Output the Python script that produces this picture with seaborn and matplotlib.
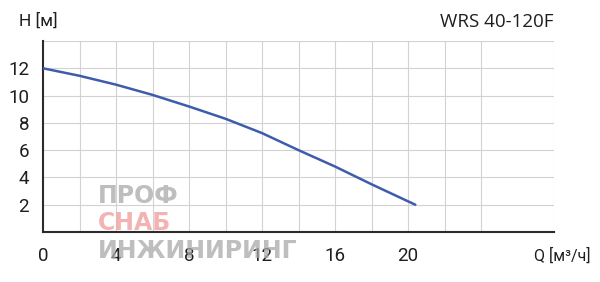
import matplotlib
matplotlib.use("Agg")
import matplotlib.pyplot as plt
import seaborn as sns
import pandas as pd

# Data
flow_q = [0, 2, 4, 6, 8, 10, 12, 14, 16, 18, 20.4]
head_h = [12.0, 11.45, 10.8, 10.05, 9.2, 8.3, 7.25, 6.0, 4.8, 3.5, 2.0]
x_ticks = [0, 4, 8, 12, 16, 20, 24, 28]
x_tick_labels = ["0", "4", "8", "12", "16", "20", "", ""]
y_ticks = [2, 4, 6, 8, 10, 12]
y_tick_labels = ["2", "4", "6", "8", "10", "12"]
x_grid = [2, 4, 6, 8, 10, 12, 14, 16, 18, 20, 22, 24, 28]
y_grid = [2, 4, 6, 8, 10, 12, 14]
title_text = "WRS 40-120F"
y_label = "H [м]"
x_label = "Q [м³/ч]"
watermark = ["ПРОФ", "СНАБ", "ИНЖИНИРИНГ"]

sns.set_style("white")
plt.rcParams["font.family"] = ["Roboto", "DejaVu Sans"]

fig = plt.figure(figsize=(6.0, 2.82), dpi=100)
ax = fig.add_axes([43/600, 1-232/282, (554-43)/600, (232-41)/282])

df = pd.DataFrame({"Q": flow_q, "H": head_h})

for gx in x_grid:
    ax.axvline(gx, color="#d2d2d2", lw=0.8, zorder=0)
for gy in y_grid:
    ax.axhline(gy, color="#d2d2d2", lw=0.8, zorder=0)

sns.lineplot(data=df, x="Q", y="H", ax=ax, color="#3d5cab", lw=1.8, zorder=3)

ax.set_xlim(0, 28)
ax.set_ylim(0, 14)
ax.set_xticks(x_ticks)
ax.set_xticklabels(x_tick_labels)
ax.set_yticks(y_ticks)
ax.set_yticklabels(y_tick_labels)
ax.set_xlabel("")
ax.set_ylabel("")
for s in ["top", "right"]:
    ax.spines[s].set_visible(False)
for s in ["left", "bottom"]:
    ax.spines[s].set_color("#2b2b2b")
    ax.spines[s].set_linewidth(1.5)
ax.tick_params(axis="x", direction="out", length=6, width=1.5, color="#2b2b2b",
               labelsize=13.5, pad=5, labelcolor="#1e1e1e")
ax.tick_params(axis="y", direction="out", length=7, width=1.5, color="#2b2b2b",
               labelsize=13.5, pad=3, labelcolor="#1e1e1e")

fig.text(19/600, 1-21/282, y_label, fontsize=12.5, color="#1e1e1e", va="center", ha="left")
fig.text(554/600, 1-22/282, title_text, fontsize=13.5, color="#1e1e1e", va="center",
         ha="right", family=["Open Sans", "DejaVu Sans"])
fig.text(591/600, 1-256/282, x_label, fontsize=11.5, color="#1e1e1e", va="center", ha="right")

# watermark
wm_font = ["DejaVu Sans"]
fig.text(98/600, 1-196/282, watermark[0], fontsize=17, color="#a8a8a8", alpha=0.75,
         va="center", ha="left", family=wm_font, fontweight="bold", zorder=0)
fig.text(98/600, 1-223/282, watermark[1], fontsize=17, color="#f09a9a", alpha=0.75,
         va="center", ha="left", family=wm_font, fontweight="bold", zorder=0)
fig.text(98/600, 1-251/282, watermark[2], fontsize=17, color="#a8a8a8", alpha=0.75,
         va="center", ha="left", family=wm_font, fontweight="bold", zorder=0)

fig.savefig("out.png", dpi=100)
